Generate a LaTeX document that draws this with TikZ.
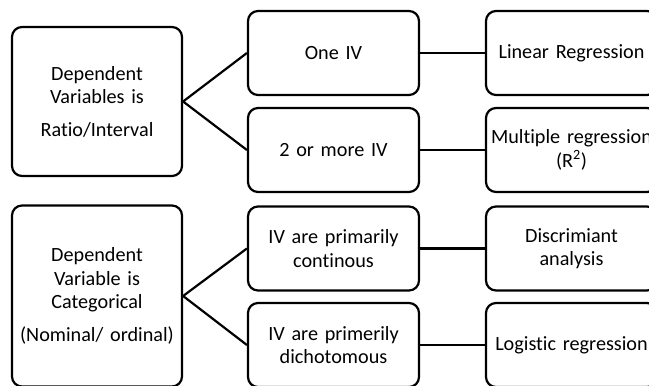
\documentclass[tikz,border=0pt]{standalone}
\usepackage{fontspec}
\setmainfont{Carlito}[Ligatures=CommonOff]
\begin{document}
\begin{tikzpicture}[x=1pt,y=-1pt,
  box/.style={draw=black, line width=2.2pt, rounded corners=10pt,
    align=center, inner sep=0pt, text=black,
    font=\fontsize{20.2}{23.5}\selectfont},
  dvbox/.style={box, minimum width=170pt, text width=165pt},
  ivbox/.style={box, minimum width=171pt, minimum height=84pt, text width=166pt},
  link/.style={draw=black, line width=2.2pt}]
  \clip (0,0) rectangle (649,386);

  % dependent-variable boxes
  \node[dvbox, minimum height=149pt] (dv1) at (97,101.5)
    {Dependent\\Variables is\\[9pt]Ratio/Interval};
  \node[dvbox, minimum height=181pt] (dv2) at (97,296)
    {Dependent\\Variable is\\Categorical\\[9pt](Nominal/ ordinal)};

  % independent-variable boxes
  \node[ivbox] (one)  at (333.5,53)    {One IV};
  \node[ivbox] (two)  at (333.5,150)   {2 or more IV};
  \node[ivbox] (cont) at (333.5,248.5) {IV are primarily\\continous};
  \node[ivbox] (dich) at (333.5,345)   {IV are primerily\\dichotomous};

  % analysis boxes
  \node[ivbox] (lin)  at (571.5,53)    {Linear Regression};
  \node[ivbox] (mult) at (571.5,150)   {Multiple regression\\(R\textsuperscript{2})};
  \node[ivbox] (disc) at (571.5,248.5) {Discrimiant\\analysis};
  \node[ivbox] (logi) at (571.5,345)   {Logistic regression};

  % connectors
  \draw[link] (one.west) -- (dv1.east) -- (two.west);
  \draw[link] (cont.west) -- (dv2.east) -- (dich.west);
  \draw[link] (one) -- (lin);
  \draw[link] (two) -- (mult);
  \draw[link] (cont) -- (disc);
  \draw[link] (dich) -- (logi);
\end{tikzpicture}
\end{document}
